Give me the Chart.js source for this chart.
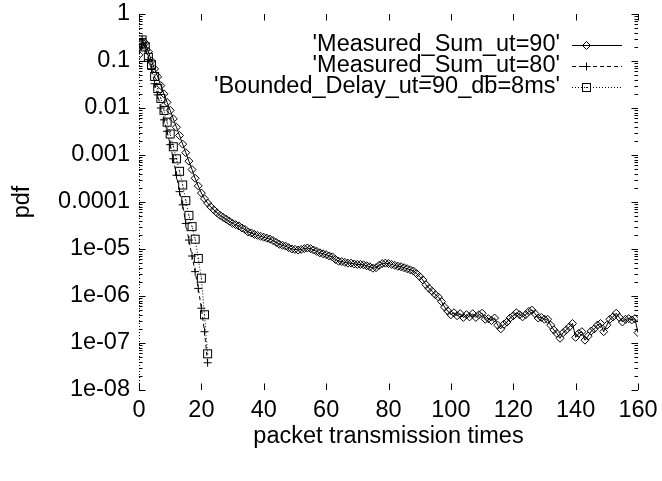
<!DOCTYPE html>
<html><head><meta charset="utf-8">
<script src="https://cdn.jsdelivr.net/npm/chart.js@4/dist/chart.umd.min.js"></script>
<style>html,body{margin:0;padding:0;background:#fff}#wrap{width:662px;height:481px}</style>
</head><body><div id="wrap"><canvas id="c" width="662" height="481"></canvas></div>
<script>
// ---------- data ----------
const seriesNames = ["'Measured_Sum_ut=90'", "'Measured_Sum_ut=80'", "'Bounded_Delay_ut=90_db=8ms'"];
const xTitle = 'packet transmission times';
const yTitle = 'pdf';

const times90 = [0,1,2,3,4,5,6,7,8,9,10,11,12,13,14,15,16,17,18,19,20,21,22,23,24,25,26,27,28,29,30,31,32,33,34,35,36,37,38,39,40,41,42,43,44,45,46,47,48,49,50,51,52,53,54,55,56,57,58,59,60,61,62,63,64,65,66,67,68,69,70,71,72,73,74,75,76,77,78,79,80,81,82,83,84,85,86,87,88,89,90,91,92,93,94,95,96,97,98,99,100,101,102,103,104,105,106,107,108,109,110,111,112,113,114,115,116,117,118,119,120,121,122,123,124,125,126,127,128,129,130,131,132,133,134,135,136,137,138,139,140,141,142,143,144,145,146,147,148,149,150,151,152,153,154,155,156,157,158,159,160];
const pdf90 = [0.135,0.25,0.24,0.158,0.1,6.8e-2,4.6e-2,3.0e-2,2.0e-2,1.32e-2,
  8.9e-3,5.9e-3,3.9e-3,2.6e-3,1.7e-3,1.12e-3,7.4e-4,4.9e-4,3.2e-4,2.2e-4,
  1.55e-4,1.17e-4,9.5e-5,7.9e-5,6.8e-5,5.9e-5,5.2e-5,4.7e-5,4.3e-5,3.9e-5,
  3.5e-5,3.3e-5,3.1e-5,2.8e-5,2.6e-5,2.3e-5,2.2e-5,2.05e-5,1.95e-5,1.86e-5,
  1.78e-5,1.7e-5,1.62e-5,1.51e-5,1.38e-5,1.26e-5,1.2e-5,1.15e-5,1.07e-5,1.0e-5,
  9.8e-6,9.5e-6,9.8e-6,1.02e-5,1.05e-5,1.02e-5,9.5e-6,8.9e-6,8.3e-6,7.9e-6,
  7.6e-6,7.1e-6,6.8e-6,6.0e-6,5.5e-6,5.4e-6,5.2e-6,5.0e-6,5.0e-6,4.8e-6,
  4.7e-6,4.7e-6,4.6e-6,4.4e-6,4.2e-6,3.9e-6,4.0e-6,4.5e-6,4.9e-6,5.0e-6,
  4.9e-6,4.7e-6,4.5e-6,4.3e-6,4.2e-6,4.0e-6,3.8e-6,3.6e-6,3.4e-6,3.0e-6,
  2.6e-6,2.2e-6,1.74e-6,1.45e-6,1.26e-6,1.07e-6,9.5e-7,7.6e-7,5.8e-7,4.8e-7,
  4.0e-7,4.4e-7,3.8e-7,4.2e-7,3.5e-7,4.0e-7,3.6e-7,4.2e-7,3.5e-7,4.0e-7,
  4.3e-7,3.2e-7,3.3e-7,3.0e-7,3.4e-7,2.4e-7,2.0e-7,2.5e-7,2.8e-7,3.4e-7,
  3.8e-7,4.4e-7,4.0e-7,3.6e-7,4.0e-7,4.7e-7,5.0e-7,4.2e-7,3.4e-7,3.5e-7,
  3.2e-7,3.2e-7,2.4e-7,1.9e-7,1.6e-7,1.26e-7,1.66e-7,1.9e-7,2.2e-7,2.6e-7,
  1.32e-7,1.6e-7,1.74e-7,1.15e-7,1.4e-7,1.8e-7,2.0e-7,2.4e-7,2.6e-7,1.74e-7,
  2.4e-7,3.2e-7,3.6e-7,4.3e-7,3.5e-7,2.8e-7,3.2e-7,3.3e-7,3.1e-7,3.3e-7,
  1.66e-7];

const times80 = [0,1,2,3,4,5,6,7,8,9,10,11,12,13,14,15,16,17,18,19,20,21,22];
const pdf80 = [0.2,0.30,0.19,0.107,0.066,0.033,0.019,0.01,5.6e-3,3.2e-3,
  1.66e-3,8.3e-4,3.7e-4,1.66e-4,8.7e-5,3.5e-5,1.55e-5,7.1e-6,3.3e-6,1.45e-6,
  5.5e-7,1.74e-7,3.8e-8];

const timesBD = [0,1,2,3,4,5,6,7,8,9,10,11,12,13,14,15,16,17,18,19,20,21,22];
const pdfBD = [0.22,0.28,0.2,0.12,0.083,0.047,0.026,0.016,8.9e-3,5.0e-3,
  2.8e-3,1.5e-3,8.3e-4,4.5e-4,2.3e-4,1.07e-4,5.2e-5,3.0e-5,1.62e-5,6.3e-6,
  2.4e-6,4.0e-7,5.9e-8];

const xTickValues = [0,20,40,60,80,100,120,140,160];
const yTickValues = [1,0.1,0.01,0.001,0.0001,1e-5,1e-6,1e-7,1e-8];
const yTickLabels = ['1','0.1','0.01','0.001','0.0001','1e-05','1e-06','1e-07','1e-08'];

// ---------- styling ----------
const FONT = 'Liberation Sans, Arial, Helvetica, sans-serif';
const FS = 23.5;

function squarePoint() {
  const c = document.createElement('canvas');
  c.width = 11; c.height = 11;
  const g = c.getContext('2d');
  g.strokeStyle = '#000'; g.lineWidth = 1;
  g.strokeRect(1.5, 1.5, 8, 8);
  g.fillStyle = '#000'; g.fillRect(5, 5, 1, 1);
  return c;
}
const sqImg = squarePoint();

function toXY(xs, ys) { return ys.map((v, i) => ({x: xs[i], y: v})); }

const gnuplotFrame = {
  id: 'gnuplotFrame',
  afterDatasetsDraw(chart) {
    const {ctx, chartArea: a, scales: {x, y}} = chart;
    ctx.save();
    ctx.strokeStyle = '#000';
    ctx.lineWidth = 1;
    const x0 = Math.round(x.getPixelForValue(0)) + 0.5;
    ctx.setLineDash([1, 2]);
    ctx.beginPath(); ctx.moveTo(x0, a.top); ctx.lineTo(x0, a.bottom); ctx.stroke();
    ctx.setLineDash([]);
    const L = Math.round(a.left) + 0.5, R = Math.round(a.right) - 0.5;
    const T = Math.round(a.top) + 0.5, B = Math.round(a.bottom) - 0.5;
    ctx.beginPath();
    for (const v of xTickValues) {
      const px = Math.round(x.getPixelForValue(v)) + 0.5;
      ctx.moveTo(px, T - 0.5); ctx.lineTo(px, T + 6);
      ctx.moveTo(px, B + 0.5); ctx.lineTo(px, B - 6);
    }
    for (let e = -8; e <= 0; e++) {
      for (let m = 1; m <= 9; m++) {
        const v = m * Math.pow(10, e);
        if (v > 1.0000001) continue;
        const py = Math.round(y.getPixelForValue(v)) + 0.5;
        const len = m === 1 ? 6 : 3;
        ctx.moveTo(L - 0.5, py); ctx.lineTo(L + len, py);
        ctx.moveTo(R + 0.5, py); ctx.lineTo(R - len, py);
      }
    }
    ctx.stroke();

    // key (legend) inside plot, gnuplot style
    const rows = [45, 66, 87];
    const textRight = 560, s0 = 572, s1 = 622, mk = 586;
    ctx.font = FS + 'px ' + FONT;
    ctx.fillStyle = '#000';
    ctx.textAlign = 'right';
    ctx.textBaseline = 'middle';
    const dashes = [[], [4, 3], [1, 2]];
    rows.forEach((ry, i) => {
      ctx.fillText(seriesNames[i], textRight, ry);
      ctx.setLineDash(dashes[i]);
      ctx.beginPath(); ctx.moveTo(s0, ry + 0.5); ctx.lineTo(s1, ry + 0.5); ctx.stroke();
      ctx.setLineDash([]);
    });
    ctx.beginPath();
    let ry = rows[0] + 0.5;
    ctx.moveTo(mk + 0.5, ry - 4); ctx.lineTo(mk + 4.5, ry); ctx.lineTo(mk + 0.5, ry + 4); ctx.lineTo(mk - 3.5, ry); ctx.closePath();
    ry = rows[1] + 0.5;
    ctx.moveTo(mk + 0.5, ry - 4); ctx.lineTo(mk + 0.5, ry + 4);
    ctx.moveTo(mk - 3.5, ry); ctx.lineTo(mk + 4.5, ry);
    ctx.stroke();
    ctx.drawImage(sqImg, mk - 5, rows[2] - 5);
    ctx.restore();
  }
};

new Chart(document.getElementById('c'), {
  type: 'line',
  data: {
    datasets: [
      {label: seriesNames[0], data: toXY(times90, pdf90), borderColor: '#000', borderWidth: 1,
       pointStyle: 'rectRot', pointRadius: 4, pointBorderWidth: 1, pointBorderColor: '#000',
       pointBackgroundColor: 'rgba(0,0,0,0)', tension: 0, fill: false},
      {label: seriesNames[1], data: toXY(times80, pdf80), borderColor: '#000', borderWidth: 1, borderDash: [4, 3],
       pointStyle: 'cross', pointRadius: 4, pointBorderWidth: 1, pointBorderColor: '#000',
       pointBackgroundColor: 'rgba(0,0,0,0)', tension: 0, fill: false},
      {label: seriesNames[2], data: toXY(timesBD, pdfBD), borderColor: '#000', borderWidth: 1, borderDash: [1, 2],
       pointStyle: sqImg, pointRadius: 5, pointBorderWidth: 1, pointBorderColor: '#000',
       pointBackgroundColor: 'rgba(0,0,0,0)', tension: 0, fill: false}
    ]
  },
  options: {
    responsive: false,
    animation: false,
    devicePixelRatio: 1,
    layout: {padding: {left: 0, right: 24, top: 14, bottom: 30}},
    plugins: {legend: {display: false}, tooltip: {enabled: false}},
    scales: {
      x: {
        type: 'linear', min: 0, max: 160,
        afterBuildTicks: s => { s.ticks = xTickValues.map(v => ({value: v})); },
        afterFit: s => { s.height = 61; s.paddingLeft = 0; s.paddingRight = 0; },
        grid: {display: false, drawTicks: false},
        border: {display: false},
        ticks: {padding: 6, color: '#000', font: {family: FONT, size: FS}, maxRotation: 0, autoSkip: false,
                callback: v => String(v)},
        title: {display: true, text: xTitle, color: '#000', font: {family: FONT, size: FS}, padding: {top: 0, bottom: 0}}
      },
      y: {
        type: 'logarithmic', min: 1e-8, max: 1,
        afterBuildTicks: s => { s.ticks = yTickValues.map(v => ({value: v})); },
        afterFit: s => { s.width = 139; s.paddingTop = 0; s.paddingBottom = 0; },
        grid: {display: false, drawTicks: false},
        border: {display: false},
        ticks: {padding: 9, color: '#000', font: {family: FONT, size: FS}, autoSkip: false,
                callback: v => { const k = yTickValues.findIndex(t => Math.abs(Math.log10(t) - Math.log10(v)) < 1e-6); return k >= 0 ? yTickLabels[k] : ''; }},
        title: {display: true, text: yTitle, color: '#000', font: {family: FONT, size: FS}, padding: {top: 8, bottom: 0}}
      }
    }
  },
  plugins: [gnuplotFrame]
});
</script>
</body></html>
